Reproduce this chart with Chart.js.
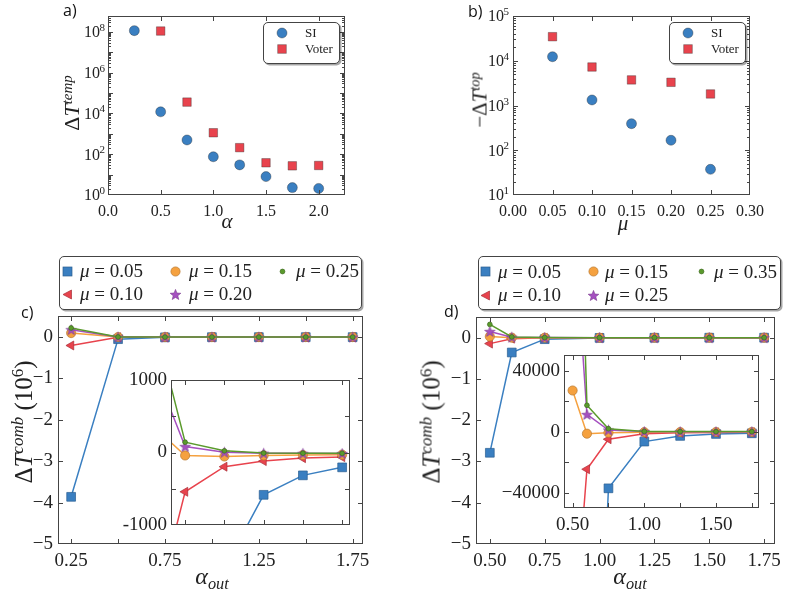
<!DOCTYPE html>
<html><head><meta charset="utf-8">
<script src="https://cdn.jsdelivr.net/npm/chart.js@4.4.1/dist/chart.umd.min.js"></script>
<style>
body{margin:0;width:787px;height:590px;background:#fff;position:relative;overflow:hidden;font-family:'Liberation Serif',serif;}
canvas{position:absolute;}
.panel{position:absolute;font-family:'Open Sans',sans-serif;font-size:16px;line-height:1;color:#111;}
.title{position:absolute;white-space:nowrap;color:#222;font-family:'Liberation Serif',serif;line-height:1;}
.title sup{font-size:0.68em;vertical-align:0.5em;line-height:0;}
.title sub{font-size:0.68em;vertical-align:-0.3em;line-height:0;}
.legend{position:absolute;border:1px solid #444;border-radius:5px;box-shadow:1.5px 1.5px 0 rgba(0,0,0,0.35);background:#fff;box-sizing:border-box;}
.li{position:absolute;white-space:nowrap;color:#222;line-height:1;}
.lm{position:absolute;}
</style></head><body>
<script>
// ---------------- DATA ----------------
// panel a
const alphaSI_A = [0.25, 0.5, 0.75, 1.0, 1.25, 1.5, 1.75, 2.0];
const siA = [1.15e8, 1.2e4, 500, 75, 30, 8, 2.3, 2.1];
const alphaVoter_A = [0.5, 0.75, 1.0, 1.25, 1.5, 1.75, 2.0];
const voterA = [1.1e8, 3.6e4, 1130, 210, 38, 27, 28];
const aXTicks = [0, 0.5, 1.0, 1.5, 2.0];
const aYTicks = [1, 1e1, 1e2, 1e3, 1e4, 1e5, 1e6, 1e7, 1e8];
// panel b
const muB = [0.05, 0.10, 0.15, 0.20, 0.25];
const siB = [12300, 1330, 392, 167, 37.5];
const voterB = [34500, 7250, 3730, 3300, 1810];
const bXTicks = [0, 0.05, 0.10, 0.15, 0.20, 0.25, 0.30];
const bYTicks = [1e1, 1e2, 1e3, 1e4, 1e5];
const seriesNamesAB = ['SI', 'Voter'];
// panel c (raw values)
const alphaOutC = [0.25, 0.5, 0.75, 1.0, 1.25, 1.5, 1.75];
const muC = ['0.05', '0.10', '0.15', '0.20', '0.25'];
const c005 = [-3.86e6, -5.0e4, -5000, -1604, -587, -317, -206];
const c010 = [-2.03e5, -2700, -545, -197, -119, -78, -64];
const c015 = [9.7e4, 460, -41, -55, -41, -35, -30];
const c020 = [1.8e5, 1458, 83, 5, -10, -12, -14];
const c025 = [2.2e5, 2286, 143, 23, -8, -10, -12];
const cXTicks = [0.25, 0.5, 0.75, 1.0, 1.25, 1.5, 1.75];
const cXLabels = [0.25, 0.75, 1.25, 1.75];
const cYTicks = [-5, -4, -3, -2, -1, 0];
const cInsetXTicks = [0.75, 1.0, 1.25, 1.5, 1.75];
const cInsetYTicks = [-1000, -500, 0, 500, 1000];
const cInsetYLabels = [-1000, 0, 1000];
// panel d (raw values)
const alphaOutD = [0.5, 0.6, 0.75, 1.0, 1.25, 1.5, 1.75];
const muD = ['0.05', '0.10', '0.15', '0.25', '0.35'];
const d005 = [-2.79e6, -3.6e5, -37100, -6470, -2780, -1500, -1040];
const d010 = [-1.45e5, -24600, -4920, -1400, -700, -450, -350];
const d015 = [27000, -1300, -650, -300, -250, -200, -200];
const d025 = [1.5e5, 11300, 1100, 100, 0, 0, 0];
const d035 = [3.2e5, 17300, 1950, 200, 50, 50, 50];
const dXTicks = [0.5, 0.75, 1.0, 1.25, 1.5, 1.75];
const dYTicks = [-5, -4, -3, -2, -1, 0];
const dInsetXTicks = [0.5, 0.75, 1.0, 1.25, 1.5, 1.75];
const dInsetXLabels = [0.5, 1.0, 1.5];
const dInsetYTicks = [-40000, -20000, 0, 20000, 40000];
const dInsetYLabels = [-40000, 0, 40000];

// ---------------- STYLE ----------------
const COL = {blue:'#3a7fc1', red:'#e8434d', orange:'#f5a13f', purple:'#a550c0', green:'#5a9a2c'};
const EDGE = {blue:'#2b5f91', red:'#a8313a', orange:'#b8782f', purple:'#7a3b8f', green:'#3d6a1e'};
const FONT = "'Liberation Serif', serif";
const TICKCOL = '#222';

function starCanvas(r, fill, stroke){
  const s = Math.ceil(r*2+2);
  const c = document.createElement('canvas'); c.width = s; c.height = s;
  const g = c.getContext('2d'); g.translate(s/2, s/2+0.5); g.beginPath();
  for (let i=0;i<10;i++){ const rr = i%2 ? r*0.42 : r; const an = -Math.PI/2 + i*Math.PI/5; g.lineTo(rr*Math.cos(an), rr*Math.sin(an)); }
  g.closePath(); g.fillStyle = fill; g.fill(); g.strokeStyle = stroke; g.lineWidth = 0.6; g.stroke();
  return c;
}
const STAR = starCanvas(5.5, COL.purple, EDGE.purple);

const mplAxes = {
  id: 'mplAxes',
  beforeDatasetsDraw(chart, args, o){
    if (o.fill){ const a = chart.chartArea, ctx = chart.ctx; ctx.save(); ctx.fillStyle = '#fff'; ctx.fillRect(a.left, a.top, a.right-a.left, a.bottom-a.top); ctx.restore(); }
  },
  afterDraw(chart, args, o){
    const ctx = chart.ctx, a = chart.chartArea;
    const xs = chart.scales.x, ys = chart.scales.y;
    const L = Math.round(a.left)+0.5, R = Math.round(a.right)-0.5, T = Math.round(a.top)+0.5, B = Math.round(a.bottom)-0.5;
    const maj = 4.5, mnr = 2.5;
    ctx.save();
    ctx.strokeStyle = '#444'; ctx.lineWidth = 1;
    ctx.beginPath();
    const vt = (v, len) => { const p = Math.round(xs.getPixelForValue(v))+0.5; if (p < L-0.1 || p > R+0.1) return; ctx.moveTo(p, B); ctx.lineTo(p, B-len); ctx.moveTo(p, T); ctx.lineTo(p, T+len); };
    const ht = (v, len) => { const p = Math.round(ys.getPixelForValue(v))+0.5; if (p < T-0.6 || p > B+0.6) return; ctx.moveTo(L, p); ctx.lineTo(L+len, p); ctx.moveTo(R, p); ctx.lineTo(R-len, p); };
    xs.ticks.forEach(t => vt(t.value, maj));
    ys.ticks.forEach(t => ht(t.value, maj));
    if (ys.type === 'logarithmic'){
      const lo = Math.floor(Math.log10(ys.min)), hi = Math.ceil(Math.log10(ys.max));
      for (let d = lo; d <= hi; d++) for (let k = 2; k <= 9; k++){ const v = k*Math.pow(10, d); if (v > ys.min && v < ys.max) ht(v, mnr); }
    }
    ctx.stroke();
    ctx.strokeRect(L, T, R-L, B-T);
    if (o.logLabels){
      const ll = o.logLabels;
      ctx.fillStyle = TICKCOL;
      ys.ticks.forEach(t => {
        const e = Math.round(Math.log10(t.value));
        if (e % ll.step !== 0) return;
        const py = ys.getPixelForValue(t.value);
        const xr = a.left - ll.pad;
        ctx.font = ll.exp + 'px ' + FONT; const ew = ctx.measureText(String(e)).width;
        ctx.textAlign = 'left'; ctx.textBaseline = 'alphabetic';
        ctx.fillText(String(e), xr - ew, py - 1);
        ctx.font = ll.size + 'px ' + FONT; const bw = ctx.measureText('10').width;
        ctx.fillText('10', xr - ew - bw + 0.5, py + ll.size*0.34);
      });
    }
    ctx.restore();
  }
};

function fixTicks(arr){ return s => { s.ticks = arr.map(v => ({value: v})); }; }

function makeChart(rect, area, datasets, sc, pluginOpts, fsize){
  const cv = document.createElement('canvas');
  cv.width = rect.w; cv.height = rect.h;
  cv.style.left = rect.x + 'px'; cv.style.top = rect.y + 'px';
  cv.style.width = rect.w + 'px'; cv.style.height = rect.h + 'px';
  document.body.appendChild(cv);
  const Lw = area.l - rect.x, T = area.t - rect.y, R = rect.x + rect.w - area.r, Bh = rect.y + rect.h - area.b;
  const axis = (c, isX) => Object.assign({
    grid: {display: false, drawTicks: false},
    border: {display: false},
    afterBuildTicks: fixTicks(c.ticks),
    afterFit: s => { if (isX) s.height = Bh; else s.width = Lw; },
    ticks: Object.assign({font: {family: FONT, size: fsize}, color: TICKCOL, autoSkip: false, maxRotation: 0, minRotation: 0, padding: 5}, c.tickOpts || {})
  }, c.base);
  return new Chart(cv, {
    type: 'scatter',
    data: {datasets},
    options: {
      responsive: false, animation: false, devicePixelRatio: 1,
      layout: {padding: {left: 0, top: T, right: R, bottom: 0}},
      plugins: {legend: {display: false}, tooltip: {enabled: false}, mplAxes: pluginOpts || {}},
      scales: {x: axis(sc.x, true), y: axis(sc.y, false)}
    },
    plugins: [mplAxes]
  });
}

const ABEDGE = 'rgba(40,40,40,0.45)';
// ---------- panel a ----------
makeChart({x:0, y:0, w:390, h:250}, {l:108, t:16, r:345, b:195}, [
  {label: seriesNamesAB[0], data: alphaSI_A.map((x,i)=>({x, y: siA[i]})), pointStyle:'circle', pointRadius:5, backgroundColor: COL.blue, borderColor: ABEDGE, borderWidth:0.8},
  {label: seriesNamesAB[1], data: alphaVoter_A.map((x,i)=>({x, y: voterA[i]})), pointStyle:'rect', pointRadius:6, backgroundColor: COL.red, borderColor: ABEDGE, borderWidth:0.8}
], {
  x: {ticks: aXTicks, base: {type:'linear', min:0, max:2.25}, tickOpts: {callback: v => v.toFixed(1), padding: 7}},
  y: {ticks: aYTicks, base: {type:'logarithmic', min:1, max:6e8}, tickOpts: {display:false}}
}, {logLabels: {step: 2, pad: 3, size: 16, exp: 11}}, 16);

// ---------- panel b ----------
makeChart({x:390, y:0, w:397, h:250}, {l:513, t:16, r:750, b:195}, [
  {label: seriesNamesAB[0], data: muB.map((x,i)=>({x, y: siB[i]})), pointStyle:'circle', pointRadius:5, backgroundColor: COL.blue, borderColor: ABEDGE, borderWidth:0.8},
  {label: seriesNamesAB[1], data: muB.map((x,i)=>({x, y: voterB[i]})), pointStyle:'rect', pointRadius:6, backgroundColor: COL.red, borderColor: ABEDGE, borderWidth:0.8}
], {
  x: {ticks: bXTicks, base: {type:'linear', min:0, max:0.30}, tickOpts: {callback: v => v.toFixed(2), padding: 7}},
  y: {ticks: bYTicks, base: {type:'logarithmic', min:10, max:1e5}, tickOpts: {display:false}}
}, {logLabels: {step: 1, pad: 4, size: 16, exp: 11}}, 16);

// ---------- c / d series styles ----------
const STY = [
  {c:'blue', ps:'rect', r:6.2, rot:0},
  {c:'red', ps:'triangle', r:5.2, rot:-90},
  {c:'orange', ps:'circle', r:4.6, rot:0},
  {c:'purple', ps:STAR, r:5.5, rot:0},
  {c:'green', ps:'circle', r:2.4, rot:0}
];
function comboSets(xs, series, labels, div){
  return series.map((arr, k) => {
    const s = STY[k];
    return {
      label: '\u03bc = ' + labels[k],
      data: xs.map((x,i)=>({x, y: arr[i]/div})),
      showLine: true, borderColor: COL[s.c], borderWidth: 1.5,
      pointStyle: s.ps, pointRadius: s.r, pointRotation: s.rot,
      pointBackgroundColor: COL[s.c], pointBorderColor: EDGE[s.c], pointBorderWidth: 0.7,
      order: 5 - k
    };
  });
}
const minusFmt = v => (v < 0 ? '\u2212' + Math.abs(v) : String(v));

// ---------- panel c ----------
const cSeries = [c005, c010, c015, c020, c025];
makeChart({x:0, y:300, w:395, h:290}, {l:58, t:316, r:363, b:544}, comboSets(alphaOutC, cSeries, muC, 1e6), {
  x: {ticks: cXTicks, base: {type:'linear', min:0.18, max:1.805}, tickOpts: {callback: v => cXLabels.includes(v) ? v.toFixed(2) : '', padding: 6}},
  y: {ticks: cYTicks, base: {type:'linear', min:-5, max:0.5}, tickOpts: {callback: minusFmt, padding: 5}}
}, {}, 19);
makeChart({x:100, y:365, w:260, h:175}, {l:171, t:380, r:350, b:525}, comboSets(alphaOutC, cSeries, muC, 1), {
  x: {ticks: cInsetXTicks, base: {type:'linear', min:0.66, max:1.8}, tickOpts: {display:false}},
  y: {ticks: cInsetYTicks, base: {type:'linear', min:-1000, max:1000}, tickOpts: {callback: v => cInsetYLabels.includes(v) ? String(v) : '', padding: 4}}
}, {fill: true}, 19);

// ---------- panel d ----------
const dSeries = [d005, d010, d015, d025, d035];
makeChart({x:400, y:300, w:387, h:290}, {l:476, t:317, r:781, b:544}, comboSets(alphaOutD, dSeries, muD, 1e6), {
  x: {ticks: dXTicks, base: {type:'linear', min:0.437, max:1.8}, tickOpts: {callback: v => v.toFixed(2), padding: 6}},
  y: {ticks: dYTicks, base: {type:'linear', min:-5, max:0.5}, tickOpts: {callback: minusFmt, padding: 5}}
}, {}, 19);
makeChart({x:490, y:340, w:280, h:200}, {l:564, t:354, r:759, b:508}, comboSets(alphaOutD, dSeries, muD, 1), {
  x: {ticks: dInsetXTicks, base: {type:'linear', min:0.44, max:1.8}, tickOpts: {callback: v => dInsetXLabels.includes(v) ? v.toFixed(2) : '', padding: 6}},
  y: {ticks: dInsetYTicks, base: {type:'linear', min:-50000, max:50000}, tickOpts: {callback: v => dInsetYLabels.includes(v) ? minusFmt(v) : '', padding: 4}}
}, {fill: true}, 19);

// ---------- text overlays ----------
function addDiv(cls, html, style){ const d = document.createElement('div'); d.className = cls; d.innerHTML = html; Object.assign(d.style, style); document.body.appendChild(d); return d; }
function title(html, cx, cy, size, rot){
  addDiv('title', html, {left: cx+'px', top: cy+'px', fontSize: size+'px', transform: 'translate(-50%,-50%)' + (rot ? ' rotate(-90deg)' : '')});
}
addDiv('panel', 'a)', {left:'63px', top:'2px'});
addDiv('panel', 'b)', {left:'468px', top:'3px'});
addDiv('panel', 'c)', {left:'21px', top:'304px'});
addDiv('panel', 'd)', {left:'444px', top:'303px'});

title('\u0394<i>T</i><sup><i>temp</i></sup>', 72, 103, 22, true);
title('<i>\u03b1</i>', 227, 221, 21, false);
title('\u2212\u0394<i>T</i><sup><i>top</i></sup>', 480, 100, 21, true);
title('<i>\u03bc</i>', 623, 223, 21, false);
title('\u0394<i>T</i><sup><i>comb</i></sup> (10<sup>6</sup>)', 23, 422, 25, true);
title('<i>\u03b1</i><sub><i>out</i></sub>', 212, 576, 24, false);
title('\u0394<i>T</i><sup><i>comb</i></sup> (10<sup>6</sup>)', 431, 422, 25, true);
title('<i>\u03b1</i><sub><i>out</i></sub>', 630, 576, 24, false);

// ---------- legends ----------
function markerSVG(k){
  const s = STY[k], f = COL[s.c], e = EDGE[s.c];
  let inner = '';
  if (s.ps === 'rect') inner = `<rect x="3" y="3" width="9" height="9" fill="${f}" stroke="${e}" stroke-width="0.7"/>`;
  else if (s.ps === 'triangle') inner = `<polygon points="3,7.5 11.5,3 11.5,12" fill="${f}" stroke="${e}" stroke-width="0.7"/>`;
  else if (s.ps === STAR){ let p=[]; for(let i=0;i<10;i++){const rr=i%2?2.4:5.6; const an=-Math.PI/2+i*Math.PI/5; p.push((7.5+rr*Math.cos(an)).toFixed(2)+','+(8+rr*Math.sin(an)).toFixed(2));} inner = `<polygon points="${p.join(' ')}" fill="${f}" stroke="${e}" stroke-width="0.6"/>`; }
  else inner = `<circle cx="7.5" cy="7.5" r="${s.r}" fill="${f}" stroke="${e}" stroke-width="0.7"/>`;
  return `<svg width="15" height="15" viewBox="0 0 15 15">${inner}</svg>`;
}
function legendAB(x, y){
  const box = addDiv('legend', '', {left:x+'px', top:y+'px', width:'77px', height:'42px'});
  const mk = [`<svg width="12" height="12"><circle cx="6" cy="6" r="5" fill="${COL.blue}" stroke="${ABEDGE}" stroke-width="0.8"/></svg>`,
              `<svg width="12" height="12"><rect x="1.7" y="1.7" width="8.6" height="8.6" fill="${COL.red}" stroke="${ABEDGE}" stroke-width="0.8"/></svg>`];
  seriesNamesAB.forEach((n, i) => {
    const cy = i === 0 ? 10 : 26;
    const m = document.createElement('div'); m.className = 'lm'; m.innerHTML = mk[i]; Object.assign(m.style, {left:'12px', top:(cy-6)+'px', width:'12px', height:'12px', lineHeight:0}); box.appendChild(m);
    const t = document.createElement('div'); t.className = 'li'; t.textContent = n; Object.assign(t.style, {left:'41px', top:(cy-7)+'px', fontSize:'13px'}); box.appendChild(t);
  });
}
legendAB(263, 22);
legendAB(669, 22);

function legendCD(x, y, labels, rows, cols){
  const box = addDiv('legend', '', {left:x+'px', top:y+'px', width:'303px', height:'54px'});
  labels.forEach((lab, k) => {
    const col = Math.floor(k/2), row = k % 2;
    const cy = rows[row], mx = cols[col][0], tx = cols[col][1];
    const m = document.createElement('div'); m.className = 'lm'; m.innerHTML = markerSVG(k); Object.assign(m.style, {left:(mx-7.5)+'px', top:(cy-7.5)+'px', width:'15px', height:'15px', lineHeight:0}); box.appendChild(m);
    const t = document.createElement('div'); t.className = 'li'; t.innerHTML = '<i>\u03bc</i> = ' + lab; Object.assign(t.style, {left:tx+'px', top:(cy-10)+'px', fontSize:'19px'}); box.appendChild(t);
  });
}
legendCD(59, 256, muC, [14, 37], [[7,20],[115,129],[222,236]]);
legendCD(478, 256, muD, [14.5, 38], [[6.5,19],[114.5,126],[222,235]]);
</script>
</body></html>
